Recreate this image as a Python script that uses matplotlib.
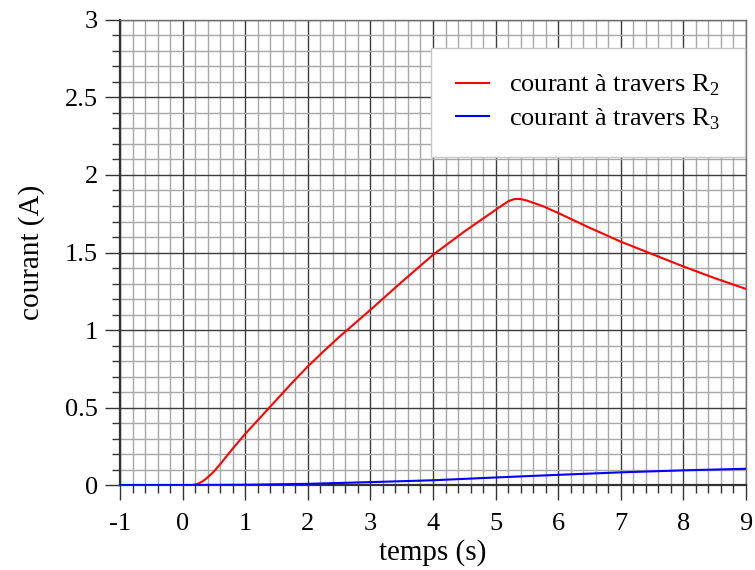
import matplotlib
matplotlib.use("Agg")
import matplotlib.pyplot as plt
from matplotlib.ticker import MultipleLocator

plt.rcParams['font.family'] = ['Liberation Serif', 'DejaVu Serif']
plt.rcParams['mathtext.fontset'] = 'custom'
plt.rcParams['mathtext.rm'] = 'Liberation Serif'
plt.rcParams['axes.unicode_minus'] = False

# courant a travers R2
t_r2 = [-1, 0, 0.15, 0.2, 0.25, 0.3, 0.35, 0.4, 0.45, 0.5, 0.6, 0.7, 0.8,
        1.0, 1.5, 1.75, 2.0, 2.25, 2.5, 3.0, 3.5, 4.0, 4.5, 5.0, 5.2, 5.3,
        5.4, 5.5, 5.75, 6.0, 6.5, 7.0, 7.5, 8.0, 8.5, 9.0]
i_r2 = [0, 0, 0, 0.004, 0.01, 0.02, 0.033, 0.05, 0.068, 0.088, 0.135, 0.185,
        0.235, 0.33, 0.55, 0.66, 0.765, 0.862, 0.955, 1.13, 1.31, 1.485,
        1.635, 1.775, 1.83, 1.845, 1.845, 1.835, 1.8, 1.755, 1.66, 1.57,
        1.49, 1.41, 1.335, 1.265]

# courant a travers R3
t_r3 = [-1, 0, 1, 2, 3, 4, 5, 6, 7, 8, 9]
i_r3 = [0, 0, 0.002, 0.008, 0.019, 0.031, 0.049, 0.066, 0.082, 0.095, 0.105]

fig = plt.figure(figsize=(7.55, 5.70), dpi=100)
ax = fig.add_axes([0.159, 0.149, 0.829, 0.816])

ax.plot(t_r2, i_r2, color='#ff0000', lw=1.5, zorder=3,
        label=r'courant à travers R$_2$')
ax.plot(t_r3, i_r3, color='#0000ff', lw=1.5, zorder=3,
        label=r'courant à travers R$_3$')

ax.set_xlim(-1, 9)
ax.set_ylim(0, 3)
ax.xaxis.set_major_locator(MultipleLocator(1))
ax.xaxis.set_minor_locator(MultipleLocator(0.2))
ax.yaxis.set_minor_locator(MultipleLocator(0.1))
ax.set_yticks([0, 0.5, 1, 1.5, 2, 2.5, 3])
ax.set_yticklabels(['0', '0.5', '1', '1.5', '2', '2.5', '3'])

ax.grid(which='minor', color='#a8a8a8', lw=1.0, zorder=0)
ax.grid(which='major', color='#3c3c3c', lw=1.0, zorder=1)
ax.set_axisbelow(True)

ax.tick_params(which='major', direction='out', length=11, width=1,
               color='#333333', labelsize=19, pad=5)
ax.tick_params(axis='x', which='major', pad=9)
ax.tick_params(which='minor', direction='out', length=6, width=1,
               color='#333333')

for side in ['left', 'bottom']:
    ax.spines[side].set_color('#333333')
    ax.spines[side].set_linewidth(1.6)
for side in ['top', 'right']:
    ax.spines[side].set_color('#707070')
    ax.spines[side].set_linewidth(1.0)

ax.set_xlabel('temps (s)', fontsize=21, labelpad=3)
ax.set_ylabel('courant (A)', fontsize=21, labelpad=14)

leg = ax.legend(loc='upper right', bbox_to_anchor=(0.998, 0.94), fontsize=19,
                frameon=True, fancybox=False, framealpha=1,
                edgecolor='#c8c8c8', handlelength=1.25, handletextpad=0.75,
                borderpad=0.95, labelspacing=0.3, borderaxespad=0)
leg.get_frame().set_linewidth(1.0)

plt.savefig('out.png', dpi=100)
